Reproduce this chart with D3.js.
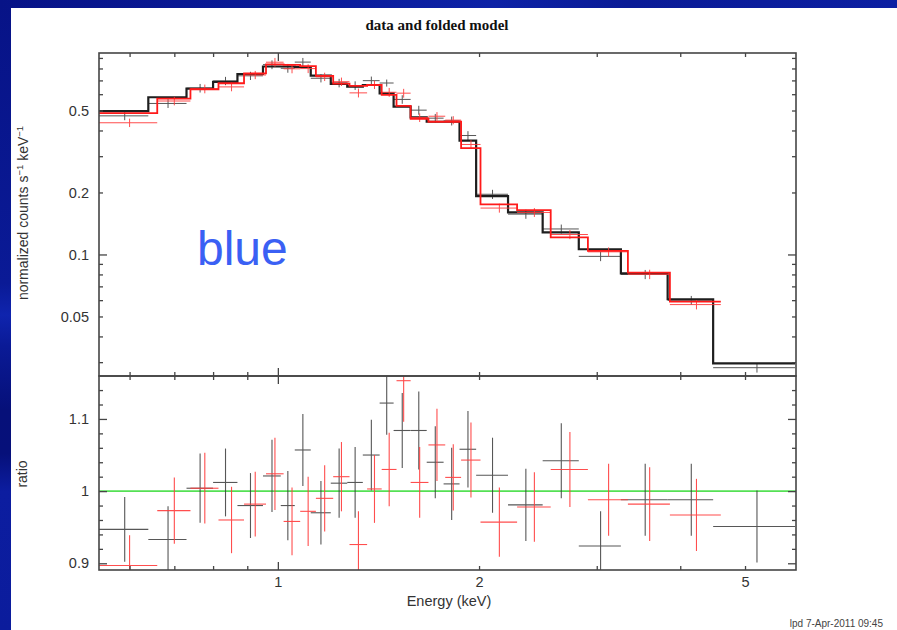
<!DOCTYPE html>
<html>
<head>
<meta charset="utf-8">
<script src="https://cdn.jsdelivr.net/npm/d3@7"></script>
<style>
  html, body { margin: 0; padding: 0; background: #fff; }
  svg { display: block; }
</style>
</head>
<body>
<svg id="chart" width="897" height="630"></svg>
<script>
// ---- Spectrum data: two data groups (black, red), grouped energy bins in keV ----
const blackEdges = [0.54, 0.64, 0.73, 0.80, 0.87, 0.95, 1.01, 1.06, 1.12, 1.20, 1.27, 1.34, 1.42, 1.49, 1.58, 1.67, 1.77, 1.87, 1.98, 2.21, 2.49, 2.82, 3.26, 3.83, 4.48, 5.94];
const blackModel = [0.497, 0.580, 0.639, 0.688, 0.752, 0.818, 0.818, 0.813, 0.739, 0.673, 0.653, 0.665, 0.606, 0.522, 0.463, 0.441, 0.441, 0.357, 0.192, 0.160, 0.128, 0.106, 0.0810, 0.0606, 0.0296];
const blackCounts = [0.471, 0.541, 0.642, 0.696, 0.737, 0.835, 0.802, 0.859, 0.717, 0.680, 0.661, 0.698, 0.680, 0.566, 0.502, 0.459, 0.445, 0.378, 0.196, 0.157, 0.133, 0.0979, 0.0800, 0.0599, 0.0282];
const blackCountsErr = [0.0224, 0.0267, 0.0307, 0.0323, 0.0338, 0.0409, 0.0393, 0.0407, 0.0325, 0.0323, 0.0320, 0.0326, 0.0267, 0.0271, 0.0250, 0.0221, 0.0221, 0.0189, 0.0100, 0.0080, 0.0067, 0.0051, 0.0041, 0.0030, 0.0015];
const blackRatio = [0.947, 0.933, 1.004, 1.012, 0.980, 1.021, 0.980, 1.057, 0.970, 1.011, 1.012, 1.050, 1.122, 1.084, 1.084, 1.040, 1.010, 1.058, 1.022, 0.981, 1.042, 0.924, 0.988, 0.988, 0.951];
const blackRatioErr = [0.045, 0.046, 0.048, 0.047, 0.045, 0.050, 0.048, 0.050, 0.044, 0.048, 0.049, 0.049, 0.044, 0.052, 0.054, 0.050, 0.050, 0.053, 0.052, 0.050, 0.052, 0.048, 0.050, 0.050, 0.050];

const redEdges = [0.54, 0.66, 0.74, 0.815, 0.89, 0.96, 1.02, 1.08, 1.14, 1.21, 1.28, 1.36, 1.43, 1.505, 1.58, 1.68, 1.78, 1.88, 2.01, 2.28, 2.56, 2.91, 3.34, 3.86, 4.60];
const redModel = [0.486, 0.571, 0.634, 0.678, 0.758, 0.838, 0.832, 0.822, 0.736, 0.676, 0.658, 0.665, 0.595, 0.526, 0.456, 0.441, 0.441, 0.328, 0.175, 0.164, 0.121, 0.104, 0.0816, 0.0590];
const redCounts = [0.436, 0.556, 0.637, 0.651, 0.744, 0.858, 0.797, 0.799, 0.729, 0.690, 0.609, 0.667, 0.613, 0.607, 0.462, 0.469, 0.449, 0.342, 0.168, 0.160, 0.125, 0.103, 0.0801, 0.0571];
const redCountsErr = [0.0204, 0.0263, 0.0311, 0.0312, 0.0341, 0.0419, 0.0391, 0.0395, 0.0339, 0.0324, 0.0303, 0.0313, 0.0303, 0.0300, 0.0223, 0.0221, 0.0203, 0.0171, 0.0084, 0.0079, 0.0063, 0.0052, 0.0042, 0.0030];
const redRatio = [0.897, 0.973, 1.004, 0.960, 0.982, 1.024, 0.958, 0.972, 0.990, 1.020, 0.926, 1.003, 1.030, 1.153, 1.012, 1.064, 1.019, 1.043, 0.957, 0.978, 1.030, 0.988, 0.982, 0.967];
const redRatioErr = [0.042, 0.046, 0.049, 0.046, 0.045, 0.050, 0.047, 0.048, 0.046, 0.048, 0.046, 0.047, 0.051, 0.057, 0.049, 0.050, 0.046, 0.052, 0.048, 0.048, 0.052, 0.050, 0.051, 0.050];

// ---- Axis ticks and labels ----
const energyDomain = [0.54, 5.96];
const energyMajorTicks = [1];
const energyMinorTicks = [0.6, 0.7, 0.8, 0.9, 2, 3, 4, 5];
const energyTickLabels = [1, 2, 5];
const countsDomain = [0.0257, 0.951];
const countsMajorTicks = [0.1];
const countsMinorTicks = [0.03, 0.04, 0.05, 0.06, 0.07, 0.08, 0.09, 0.2, 0.3, 0.4, 0.5, 0.6, 0.7, 0.8, 0.9];
const countsTickLabels = [0.05, 0.1, 0.2, 0.5];
const ratioDomain = [0.8907, 1.1595];
const ratioMajorTicks = [0.9, 1.0, 1.1];
const ratioMinorTicks = [0.92, 0.94, 0.96, 0.98, 1.02, 1.04, 1.06, 1.08, 1.12, 1.14];
const ratioTickLabels = [0.9, 1, 1.1];

const titleText = "data and folded model";
const xTitle = "Energy (keV)";
const ratioTitle = "ratio";
const stampText = "lpd  7-Apr-2011 09:45";
const noteText = "blue";

// ---- Layout ----
const W = 897, H = 630;
const plotL = 99, plotR = 796, plotT = 53, plotS = 376, plotB = 570;
const majorLen = 8, minorLen = 4;
const tickFont = "'Liberation Sans', Arial, Helvetica, sans-serif";

const svg = d3.select("#chart");
const defs = svg.append("defs");

// slide frame: blue strips along the top and left edge
const gTop = defs.append("linearGradient").attr("id", "frameTop").attr("x1", 0).attr("x2", 1).attr("y1", 0).attr("y2", 0);
[["0%", "#071387"], ["30%", "#0a1a98"], ["55%", "#0d22a6"], ["70%", "#0a1b96"], ["100%", "#0c1fa2"]]
  .forEach(([o, c]) => gTop.append("stop").attr("offset", o).attr("stop-color", c));
const gLeft = defs.append("linearGradient").attr("id", "frameLeft").attr("x1", 0).attr("x2", 0).attr("y1", 0).attr("y2", 1);
[["0%", "#071387"], ["45%", "#0a1a96"], ["50%", "#0f24ae"], ["55%", "#0a1a96"], ["65%", "#061079"], ["72%", "#06107a"], ["78%", "#0c1da0"], ["100%", "#0b1c9c"]]
  .forEach(([o, c]) => gLeft.append("stop").attr("offset", o).attr("stop-color", c));
svg.append("rect").attr("x", 0).attr("y", 0).attr("width", W).attr("height", H).attr("fill", "url(#frameLeft)");
svg.append("rect").attr("x", 0).attr("y", 0).attr("width", W).attr("height", 8).attr("fill", "url(#frameTop)");
svg.append("rect").attr("x", 11).attr("y", 8).attr("width", W - 11).attr("height", H - 8).attr("fill", "#ffffff");

// ---- Scales ----
const x = d3.scaleLog().domain(energyDomain).range([plotL, plotR]);
const yC = d3.scaleLog().domain(countsDomain).range([plotS, plotT]);
const yR = d3.scaleLinear().domain(ratioDomain).range([plotB, plotS]);

defs.append("clipPath").attr("id", "clipTop").append("rect")
  .attr("x", plotL).attr("y", plotT).attr("width", plotR - plotL).attr("height", plotS - plotT);
defs.append("clipPath").attr("id", "clipBot").append("rect")
  .attr("x", plotL).attr("y", plotS).attr("width", plotR - plotL).attr("height", plotB - plotS);

function makeBins(edges, model, counts, cerr, ratio, rerr) {
  return model.map((m, i) => ({
    lo: edges[i], hi: edges[i + 1], mid: (edges[i] + edges[i + 1]) / 2,
    model: m, counts: counts[i], cerr: cerr[i], ratio: ratio[i], rerr: rerr[i]
  }));
}
const groups = [
  { name: "black", bins: makeBins(blackEdges, blackModel, blackCounts, blackCountsErr, blackRatio, blackRatioErr),
    cross: "#3a3a3a", crossOpacity: 0.85, step: "#1e1e1e", stepWidth: 2.2 },
  { name: "red", bins: makeBins(redEdges, redModel, redCounts, redCountsErr, redRatio, redRatioErr),
    cross: "#ff3b3b", crossOpacity: 0.9, step: "#ff1a1a", stepWidth: 1.8 }
];

const upper = svg.append("g").attr("clip-path", "url(#clipTop)");
const lower = svg.append("g").attr("clip-path", "url(#clipBot)");

// unity reference in the ratio panel
lower.append("line")
  .attr("x1", plotL).attr("x2", plotR).attr("y1", yR(1)).attr("y2", yR(1))
  .attr("stroke", "#55e055").attr("stroke-width", 1.6);

const stepLine = d3.line().x(d => x(d[0])).y(d => yC(d[1]));

groups.forEach(g => {
  // data crosses, upper panel
  const cu = upper.append("g").attr("class", "crosses-" + g.name)
    .attr("stroke", g.cross).attr("stroke-width", 1).attr("opacity", g.crossOpacity);
  cu.selectAll("line.h").data(g.bins).join("line").attr("class", "h")
    .attr("x1", d => x(d.lo)).attr("x2", d => x(d.hi))
    .attr("y1", d => yC(d.counts)).attr("y2", d => yC(d.counts));
  cu.selectAll("line.v").data(g.bins).join("line").attr("class", "v")
    .attr("x1", d => x(d.mid)).attr("x2", d => x(d.mid))
    .attr("y1", d => yC(d.counts - d.cerr)).attr("y2", d => yC(d.counts + d.cerr));

  // folded model as a histogram step
  const pts = [];
  g.bins.forEach(d => { pts.push([d.lo, d.model]); pts.push([d.hi, d.model]); });
  upper.append("path").attr("d", stepLine(pts))
    .attr("fill", "none").attr("stroke", g.step).attr("stroke-width", g.stepWidth)
    .attr("stroke-linejoin", "miter");

  // ratio crosses, lower panel
  const cl = lower.append("g").attr("class", "ratio-" + g.name)
    .attr("stroke", g.cross).attr("stroke-width", 1.1).attr("opacity", g.crossOpacity);
  cl.selectAll("line.h").data(g.bins).join("line").attr("class", "h")
    .attr("x1", d => x(d.lo)).attr("x2", d => x(d.hi))
    .attr("y1", d => yR(d.ratio)).attr("y2", d => yR(d.ratio));
  cl.selectAll("line.v").data(g.bins).join("line").attr("class", "v")
    .attr("x1", d => x(d.mid)).attr("x2", d => x(d.mid))
    .attr("y1", d => yR(d.ratio - d.rerr)).attr("y2", d => yR(d.ratio + d.rerr));
});

// ---- Frames and inward ticks ----
const axisColor = "#454545";
function ticks(axisFn, scale, values, len, tx, ty) {
  const a = axisFn(scale).tickValues(values).tickSize(-len).tickFormat("");
  const g = svg.append("g").attr("transform", `translate(${tx},${ty})`).call(a);
  g.select(".domain").remove();
  g.selectAll("line").attr("stroke", axisColor).attr("stroke-width", 1.3);
}
[[plotT, plotS], [plotS, plotB]].forEach(([y0, y1]) => {
  ticks(d3.axisTop, x, energyMajorTicks, majorLen, 0, y0);
  ticks(d3.axisTop, x, energyMinorTicks, minorLen, 0, y0);
  ticks(d3.axisBottom, x, energyMajorTicks, majorLen, 0, y1);
  ticks(d3.axisBottom, x, energyMinorTicks, minorLen, 0, y1);
});
ticks(d3.axisLeft, yC, countsMajorTicks, majorLen, plotL, 0);
ticks(d3.axisLeft, yC, countsMinorTicks, minorLen, plotL, 0);
ticks(d3.axisRight, yC, countsMajorTicks, majorLen, plotR, 0);
ticks(d3.axisRight, yC, countsMinorTicks, minorLen, plotR, 0);
ticks(d3.axisLeft, yR, ratioMajorTicks, majorLen, plotL, 0);
ticks(d3.axisLeft, yR, ratioMinorTicks, minorLen, plotL, 0);
ticks(d3.axisRight, yR, ratioMajorTicks, majorLen, plotR, 0);
ticks(d3.axisRight, yR, ratioMinorTicks, minorLen, plotR, 0);

[[plotT, plotS], [plotS, plotB]].forEach(([y0, y1]) => {
  svg.append("rect").attr("x", plotL).attr("y", y0).attr("width", plotR - plotL).attr("height", y1 - y0)
    .attr("fill", "none").attr("stroke", axisColor).attr("stroke-width", 1.6);
});

// ---- Tick labels ----
function labels(axisFn, scale, values, fmt, tx, ty, pad) {
  const a = axisFn(scale).tickValues(values).tickSize(0).tickPadding(pad).tickFormat(fmt);
  const g = svg.append("g").attr("transform", `translate(${tx},${ty})`).call(a);
  g.select(".domain").remove();
  g.selectAll("line").remove();
  g.selectAll("text").attr("fill", "#333").style("font-family", tickFont).style("font-size", "14.5px");
  return g;
}
labels(d3.axisLeft, yC, countsTickLabels, d3.format("~g"), plotL, 0, 10);
labels(d3.axisLeft, yR, ratioTickLabels, d3.format("~g"), plotL, 0, 10);
labels(d3.axisBottom, x, energyTickLabels, d3.format("~g"), 0, plotB, 6.5);

// ---- Titles ----
svg.append("text").attr("x", 437).attr("y", 30).attr("text-anchor", "middle")
  .style("font-family", "'Liberation Serif', 'Times New Roman', serif").style("font-weight", "bold")
  .style("font-size", "15px").attr("fill", "#111").text(titleText);

svg.append("text").attr("x", 449).attr("y", 606).attr("text-anchor", "middle")
  .style("font-family", tickFont).style("font-size", "14.5px").attr("fill", "#333").text(xTitle);

const yt = svg.append("text").attr("transform", "translate(28,213) rotate(-90)").attr("text-anchor", "middle")
  .style("font-family", tickFont).style("font-size", "14px").attr("fill", "#333");
yt.append("tspan").text("normalized counts s");
yt.append("tspan").attr("dy", -5).style("font-size", "9.5px").text("\u22121");
yt.append("tspan").attr("dy", 5).text(" keV");
yt.append("tspan").attr("dy", -5).style("font-size", "9.5px").text("\u22121");

svg.append("text").attr("transform", "translate(27,474) rotate(-90)").attr("text-anchor", "middle")
  .style("font-family", tickFont).style("font-size", "14px").attr("fill", "#333").text(ratioTitle);

svg.append("text").attr("x", 883).attr("y", 627).attr("text-anchor", "end")
  .style("font-family", tickFont).style("font-size", "10px").attr("fill", "#444").text(stampText);

svg.append("text").attr("x", 197).attr("y", 265)
  .style("font-family", tickFont).style("font-size", "48px").attr("fill", "#3a60f4").text(noteText);
</script>
</body>
</html>
